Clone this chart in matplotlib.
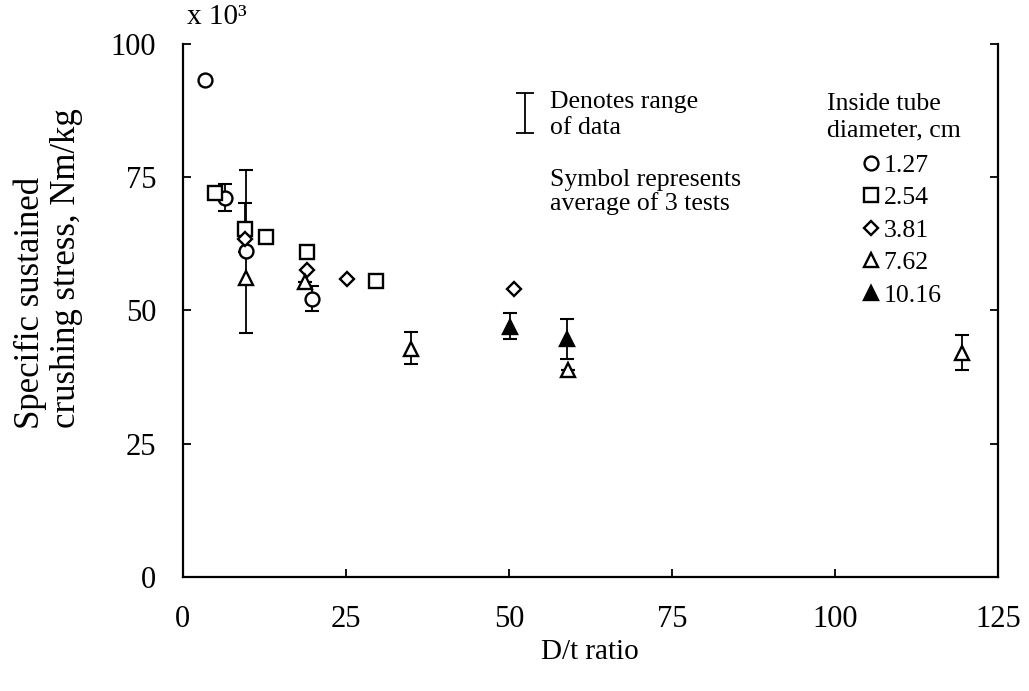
import matplotlib
matplotlib.use("Agg")
import matplotlib.pyplot as plt
import numpy as np

plt.rcParams['font.family'] = ['Liberation Serif', 'DejaVu Serif']

# inside tube diameter 1.27 cm (circles)
x_127 = [3.4, 6.5, 9.7, 19.8]
y_127 = [93.1, 71.1, 61.1, 52.2]
lo_127 = [93.1, 68.6, 61.1, 49.8]
hi_127 = [93.1, 73.7, 61.1, 54.5]

# 2.54 cm (squares)
x_254 = [4.9, 9.6, 12.8, 19.1, 29.6]
y_254 = [71.9, 65.3, 63.7, 60.9, 55.4]
lo_254 = [71.9, 61.0, 63.7, 60.9, 55.4]
hi_254 = [71.9, 70.1, 63.7, 60.9, 55.4]

# 3.81 cm (diamonds)
x_381 = [9.6, 19.1, 25.2, 50.7]
y_381 = [63.4, 57.6, 55.9, 53.9]

# 7.62 cm (open triangles)
x_762 = [9.7, 18.8, 35.0, 59.0, 119.5]
y_762 = [56.1, 55.3, 42.8, 38.8, 42.0]
lo_762 = [45.7, 55.3, 39.9, 38.8, 38.8]
hi_762 = [76.2, 55.3, 46.0, 38.8, 45.4]

# 10.16 cm (filled triangles)
x_1016 = [50.2, 58.9]
y_1016 = [46.9, 44.7]
lo_1016 = [44.7, 40.8]
hi_1016 = [49.4, 48.4]

fig = plt.figure(figsize=(10.29, 6.91), dpi=100)
ax = fig.add_axes([0.1776, 0.165, 0.7925, 0.772])


def errs(y, lo, hi):
    y = np.array(y)
    return [y - np.array(lo), np.array(hi) - y]


eb = dict(fmt='none', ecolor='black', elinewidth=1.3, capsize=5, capthick=1.5, zorder=2)
mk = dict(color='black', mec='black', mew=1.7, ls='none', zorder=3)

ax.errorbar(x_127, y_127, yerr=errs(y_127, lo_127, hi_127), **eb)
ax.errorbar(x_254, y_254, yerr=errs(y_254, lo_254, hi_254), **eb)
ax.errorbar(x_762, y_762, yerr=errs(y_762, lo_762, hi_762), **eb)
ax.errorbar(x_1016, y_1016, yerr=errs(y_1016, lo_1016, hi_1016), **eb)

h1, = ax.plot(x_127, y_127, marker='o', ms=10, mfc='white', label='1.27', **mk)
h2, = ax.plot(x_254, y_254, marker='s', ms=9.5, mfc='white', label='2.54', **mk)
h3, = ax.plot(x_381, y_381, marker='D', ms=7, mfc='white', label='3.81', **mk)
h4, = ax.plot(x_762, y_762, marker='^', ms=10, mfc='white', label='7.62', **mk)
h5, = ax.plot(x_1016, y_1016, marker='^', ms=10, mfc='black', label='10.16', **mk)

ax.set_xlim(0, 125)
ax.set_ylim(0, 100)
ax.set_xticks([0, 25, 50, 75, 100, 125])
ax.set_yticks([0, 25, 50, 75, 100])
ax.spines['top'].set_visible(False)
for s in ['left', 'right', 'bottom']:
    ax.spines[s].set_linewidth(1.6)
ax.tick_params(direction='in', length=6, width=1.3, labelsize=22,
               right=True, top=False)
ax.tick_params(axis='x', pad=20)
ax.tick_params(axis='y', pad=19)

# legend: title as separate text, entries below it
ax.text(827 / 1029, 1 - 117 / 691, 'Inside tube\ndiameter, cm', transform=fig.transFigure,
        fontsize=18.5, va='center', ha='left', linespacing=1.25)
leg = ax.legend(handles=[h1, h2, h3, h4, h5],
                frameon=False, fontsize=18.5, handlelength=0.7,
                handletextpad=0.15, labelspacing=0.37, borderpad=0,
                loc='upper left', bbox_to_anchor=(849 / 1029, 1 - 141 / 691),
                bbox_transform=fig.transFigure)

# "Denotes range of data" annotation
ax.errorbar([52.5], [87.0], yerr=[[3.8], [3.8]], fmt='none', ecolor='black',
            elinewidth=1.3, capsize=6.5, capthick=1.3)
ax.text(0.450, 0.866, 'Denotes range\nof data', transform=ax.transAxes,
        fontsize=18.5, va='center', ha='left', linespacing=1.25)
ax.text(0.450, 0.722, 'Symbol represents\naverage of 3 tests', transform=ax.transAxes,
        fontsize=18.5, va='center', ha='left', linespacing=1.05)

fig.text(187 / 1029, 1 - 17 / 691, 'x 10³', fontsize=21, va='center', ha='left')
fig.text(30 / 1029, 1 - 303 / 691, 'Specific sustained',
         rotation=90, fontsize=25, va='center', ha='center')
fig.text(67 / 1029, 1 - 268 / 691, 'crushing stress, Nm/kg',
         rotation=90, fontsize=25, va='center', ha='center')
fig.text(590 / 1029, 1 - 652 / 691, 'D/t ratio', fontsize=21, va='center', ha='center')

fig.savefig('out.png', dpi=100)
